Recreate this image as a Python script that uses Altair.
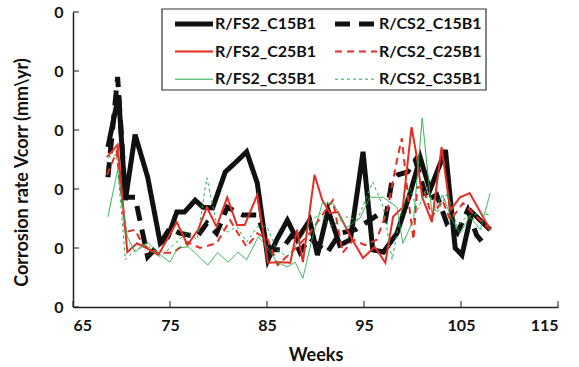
import altair as alt
import pandas as pd

series_names = ["R/FS2_C15B1", "R/CS2_C15B1", "R/FS2_C25B1", "R/CS2_C25B1", "R/FS2_C35B1", "R/CS2_C35B1"]

fs15_w = [68.6, 69.7, 70.4, 71.4, 72.7, 74.0, 74.8, 75.7, 76.5, 77.6, 78.4, 79.4, 80.7, 81.7, 82.9, 84.0, 85.1, 86.0, 87.1, 88.1, 89.4, 90.2, 91.3, 92.5, 93.6, 94.9, 95.9, 97.0, 98.4, 99.7, 100.8, 101.8, 103.4, 104.4, 105.1, 106.1, 108.0]
fs15_v = [0.271, 0.359, 0.181, 0.292, 0.220, 0.108, 0.119, 0.161, 0.161, 0.181, 0.169, 0.168, 0.229, 0.244, 0.263, 0.210, 0.080, 0.114, 0.147, 0.114, 0.147, 0.088, 0.164, 0.105, 0.114, 0.263, 0.097, 0.093, 0.125, 0.190, 0.253, 0.198, 0.266, 0.100, 0.088, 0.161, 0.131]

cs15_w = [68.6, 69.6, 70.4, 71.4, 72.7, 74.0, 75.0, 76.0, 77.8, 78.8, 79.8, 80.9, 82.5, 84.0, 85.3, 86.5, 87.6, 88.4, 89.4, 90.5, 91.2, 92.5, 94.1, 96.4, 97.2, 97.9, 98.5, 99.5, 100.3, 101.5, 102.5, 103.6, 104.6, 105.7, 106.6, 107.3]
cs15_v = [0.220, 0.390, 0.186, 0.186, 0.085, 0.108, 0.134, 0.125, 0.119, 0.142, 0.125, 0.169, 0.156, 0.156, 0.097, 0.097, 0.122, 0.093, 0.117, 0.102, 0.092, 0.125, 0.131, 0.156, 0.147, 0.215, 0.224, 0.229, 0.249, 0.181, 0.190, 0.139, 0.125, 0.164, 0.122, 0.108]

fs25_w = [68.5, 69.6, 70.6, 71.6, 72.9, 73.8, 75.7, 76.8, 77.9, 78.8, 79.8, 80.9, 81.9, 82.7, 84.0, 85.1, 86.3, 87.4, 88.1, 88.7, 89.9, 90.7, 91.5, 92.3, 93.8, 94.9, 96.1, 97.2, 98.0, 99.0, 99.9, 100.5, 101.0, 102.0, 103.0, 103.9, 104.9, 105.9, 108.0]
fs25_v = [0.254, 0.275, 0.093, 0.108, 0.097, 0.088, 0.144, 0.105, 0.131, 0.169, 0.136, 0.186, 0.139, 0.139, 0.190, 0.075, 0.076, 0.075, 0.131, 0.076, 0.224, 0.181, 0.159, 0.161, 0.114, 0.083, 0.102, 0.075, 0.153, 0.169, 0.305, 0.249, 0.186, 0.144, 0.271, 0.164, 0.186, 0.193, 0.131]

cs25_w = [68.5, 69.5, 70.4, 71.4, 72.2, 73.7, 75.3, 76.8, 78.1, 79.8, 81.2, 82.0, 82.9, 84.0, 85.1, 86.1, 88.1, 89.4, 90.7, 91.8, 92.8, 93.9, 95.1, 96.3, 97.4, 98.4, 98.9, 99.5, 100.1, 100.5, 101.1, 102.0, 103.1, 103.9, 105.2, 106.6, 108.0]
cs25_v = [0.224, 0.263, 0.127, 0.131, 0.105, 0.092, 0.092, 0.110, 0.100, 0.108, 0.147, 0.125, 0.102, 0.125, 0.114, 0.071, 0.102, 0.125, 0.156, 0.181, 0.092, 0.114, 0.105, 0.114, 0.164, 0.249, 0.286, 0.193, 0.114, 0.203, 0.203, 0.153, 0.181, 0.147, 0.176, 0.153, 0.131]

fs35_w = [68.6, 69.6, 70.6, 71.4, 72.7, 74.0, 75.0, 75.8, 76.9, 78.9, 79.9, 81.0, 82.0, 82.9, 84.1, 85.0, 86.0, 87.1, 87.9, 88.7, 89.7, 90.7, 91.8, 93.2, 94.6, 95.6, 97.0, 98.4, 99.0, 100.1, 101.0, 102.0, 103.1, 104.1, 104.9, 105.9, 107.0, 108.0]
fs35_v = [0.153, 0.232, 0.119, 0.093, 0.110, 0.088, 0.076, 0.100, 0.102, 0.071, 0.092, 0.076, 0.093, 0.080, 0.119, 0.102, 0.076, 0.068, 0.076, 0.049, 0.119, 0.176, 0.176, 0.134, 0.151, 0.186, 0.186, 0.169, 0.108, 0.147, 0.320, 0.159, 0.190, 0.147, 0.125, 0.153, 0.131, 0.193]

cs35_w = [68.6, 69.5, 70.4, 71.4, 72.6, 74.0, 75.0, 76.8, 77.8, 78.8, 79.8, 80.9, 81.9, 82.9, 84.0, 85.0, 86.0, 87.1, 88.4, 89.6, 90.5, 91.5, 93.2, 94.3, 95.9, 97.0, 97.9, 98.7, 99.7, 100.5, 101.5, 102.5, 103.6, 104.6, 105.6, 107.0, 108.0]
cs35_v = [0.254, 0.258, 0.080, 0.097, 0.105, 0.085, 0.100, 0.127, 0.114, 0.219, 0.142, 0.127, 0.136, 0.110, 0.136, 0.136, 0.097, 0.085, 0.114, 0.147, 0.159, 0.136, 0.153, 0.147, 0.212, 0.169, 0.080, 0.153, 0.203, 0.164, 0.203, 0.159, 0.193, 0.136, 0.153, 0.159, 0.156]

x_ticks = [65, 75, 85, 95, 105, 115]
y_ticks = [0, 0.1, 0.2, 0.3, 0.4, 0.5]

colors = ["#111111", "#111111", "#e52d24", "#e52d24", "#23ad4a", "#23ad4a"]
dashes = [[1, 0], [15, 9], [1, 0], [7, 5], [1, 0], [3, 3]]
widths = [5, 5, 2, 2, 1, 1]

rows = []
for name, ws, vs in zip(series_names,
                        [fs15_w, cs15_w, fs25_w, cs25_w, fs35_w, cs35_w],
                        [fs15_v, cs15_v, fs25_v, cs25_v, fs35_v, cs35_v]):
    for i, (w, v) in enumerate(zip(ws, vs)):
        rows.append({"series": name, "week": w, "v": v, "order": i})
df = pd.DataFrame(rows)
legend_df = pd.DataFrame({"series": series_names, "idx": list(range(len(series_names)))})

FONT = "Lato"

x_scale = alt.Scale(domain=[65, 115], nice=False, zero=False)
y_scale = alt.Scale(domain=[0, 0.5], nice=False)
color_scale = alt.Scale(domain=series_names, range=colors)
dash_scale = alt.Scale(domain=series_names, range=dashes)
width_scale = alt.Scale(type="ordinal", domain=series_names, range=widths)

lines = alt.Chart(df).mark_line(strokeCap="butt", strokeJoin="miter").encode(
    x=alt.X("week:Q", scale=x_scale,
            axis=alt.Axis(values=x_ticks, format="d", title="Weeks", grid=False,
                          tickSize=0, labelPadding=10, titlePadding=13)),
    y=alt.Y("v:Q", scale=y_scale,
            axis=alt.Axis(values=y_ticks, labelExpr="format(floor(datum.value), 'd')",
                          title="Corrosion rate Vcorr (mm\\yr)",
                          grid=False, tickSize=0, labelPadding=10,
                          titleX=-51, titleY=160, titleAngle=270,
                          titleAlign="center", titleBaseline="middle")),
    color=alt.Color("series:N", scale=color_scale, legend=None),
    strokeDash=alt.StrokeDash("series:N", scale=dash_scale, legend=None),
    strokeWidth=alt.StrokeWidth("series:N", scale=width_scale, legend=None),
    order="order:Q",
)

tick_df_y = pd.DataFrame({"t": y_ticks})
tick_df_x = pd.DataFrame({"t": x_ticks})

yticks = alt.Chart(tick_df_y).mark_tick(orient="horizontal", size=6, thickness=1.5, color="#222222").encode(
    x=alt.value(3), y=alt.Y("t:Q", scale=y_scale))
xticks = alt.Chart(tick_df_x).mark_tick(orient="vertical", size=6, thickness=1.5, color="#222222").encode(
    x=alt.X("t:Q", scale=x_scale), y=alt.value(292))

# legend box and entries (two columns, three rows)
legend_box = alt.Chart(pd.DataFrame({"a": [0]})).mark_rect(
    fill="white", stroke="#333333", strokeWidth=1.2
).encode(x=alt.value(89), x2=alt.value(413), y=alt.value(-3), y2=alt.value(78))

legend_base = alt.Chart(legend_df).transform_calculate(
    col="datum.idx % 2",
    row="floor(datum.idx / 2)",
).transform_calculate(
    lx1="102 + datum.col * 160",
    lx2="102 + datum.col * 160 + 38 + datum.col * 4",
    ly="12 + datum.row * 27.6",
).transform_calculate(
    tx="datum.lx2 + 2",
)

legend_lines = legend_base.mark_rule(strokeCap="butt").encode(
    x=alt.X("lx1:Q", scale=None),
    x2="lx2:Q",
    y=alt.Y("ly:Q", scale=None),
    color=alt.Color("series:N", scale=color_scale, legend=None),
    strokeDash=alt.StrokeDash("series:N", scale=dash_scale, legend=None),
    strokeWidth=alt.StrokeWidth("series:N", scale=width_scale, legend=None),
)

legend_text = legend_base.mark_text(
    align="left", baseline="middle", font=FONT, fontSize=16, fontWeight="bold", color="#111111"
).encode(
    x=alt.X("tx:Q", scale=None),
    y=alt.Y("ly:Q", scale=None),
    text="series:N",
)

chart = alt.layer(lines, yticks, xticks, legend_box, legend_lines, legend_text).properties(
    width=485, height=295,
    autosize=alt.AutoSizeParams(type="none"),
    padding={"left": 73, "top": 12, "right": 21, "bottom": 60},
).configure_view(stroke=None).configure_axis(
    domainColor="#222222", domainWidth=1.5,
    labelFont=FONT, labelFontSize=16, labelFontWeight="bold", labelColor="#111111",
    titleFont=FONT, titleFontSize=18, titleFontWeight="bold", titleColor="#111111",
)

chart.save("out.html", embed_options={"renderer": "svg", "actions": False})
